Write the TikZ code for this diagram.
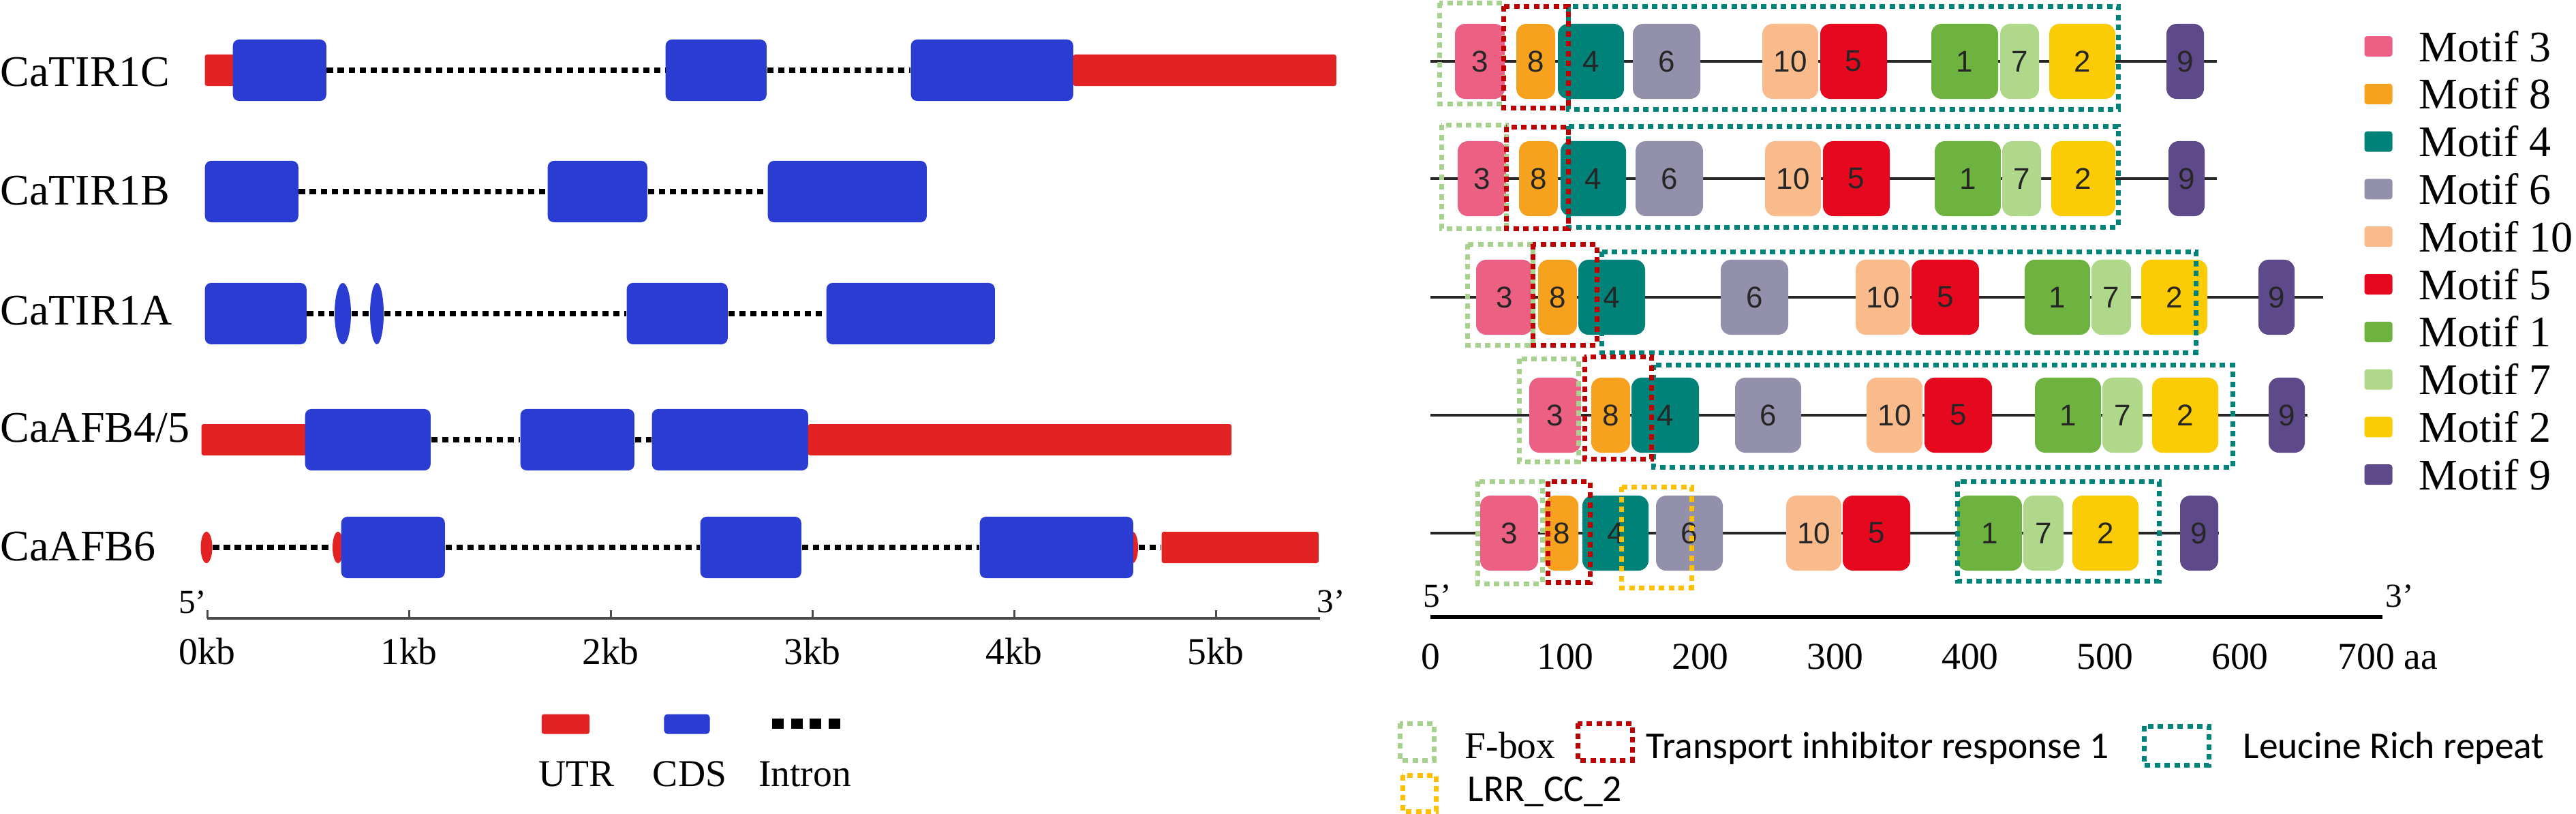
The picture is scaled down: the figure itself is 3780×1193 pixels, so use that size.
\documentclass[tikz,border=0pt]{standalone}
\usepackage{fontspec}
\setmainfont{Liberation Serif}
\setsansfont{Carlito}
\newfontfamily\boxfont{Liberation Sans}
\usetikzlibrary{shapes.geometric}

\definecolor{utrred}{RGB}{227,35,35}
\definecolor{cdsblue}{RGB}{42,60,210}
\definecolor{mot3}{RGB}{236,96,132}
\definecolor{mot8}{RGB}{246,162,30}
\definecolor{mot4}{RGB}{0,130,120}
\definecolor{mot6}{RGB}{146,144,170}
\definecolor{mot10}{RGB}{249,186,140}
\definecolor{mot5}{RGB}{230,8,30}
\definecolor{mot1}{RGB}{110,178,64}
\definecolor{mot7}{RGB}{176,216,138}
\definecolor{mot2}{RGB}{251,204,5}
\definecolor{mot9}{RGB}{94,74,138}
\definecolor{fboxgreen}{RGB}{168,208,142}
\definecolor{tirred}{RGB}{192,0,0}
\definecolor{lrrteal}{RGB}{0,132,122}
\definecolor{ccyellow}{RGB}{255,192,0}

\tikzset{
  utr/.style={rectangle, rounded corners=0.03cm, fill=utrred, minimum height=0.46cm, inner sep=0pt, anchor=west},
  cds/.style={rectangle, rounded corners=0.09cm, fill=cdsblue, minimum height=0.9cm, inner sep=0pt, anchor=west},
  cdsdot/.style={ellipse, fill=cdsblue, minimum height=0.9cm, inner sep=0pt},
  utrdot/.style={ellipse, fill=utrred, minimum height=0.46cm, inner sep=0pt},
  intron/.style={line width=0.075cm, dash pattern=on 0.095cm off 0.065cm},
  glabel/.style={font=\fontsize{18.2}{20}\selectfont, inner sep=0pt, anchor=base west},
  small label/.style={font=\fontsize{15.8}{18}\selectfont, inner sep=0pt, anchor=base},
  prime label/.style={font=\fontsize{14}{16}\selectfont, inner sep=0pt},
  sans label/.style={font=\sffamily\fontsize{15.8}{18}\selectfont, inner sep=0pt, anchor=base west},
  motif/.style={rectangle, rounded corners=0.15cm, minimum height=1.1cm, inner sep=0pt,
    text=black!85, font=\boxfont\fontsize{12.5}{14}\selectfont},
  backbone/.style={line width=0.035cm, black!85},
  frame/.style={line width=0.07cm, dash pattern=on 0.08cm off 0.065cm},
  fboxline/.style={frame, draw=fboxgreen},
  tirline/.style={frame, draw=tirred},
  lrrline/.style={frame, draw=lrrteal},
  ccline/.style={frame, draw=ccyellow},
  legsq/.style={rectangle, rounded corners=0.04cm, minimum width=0.41cm, minimum height=0.3cm, inner sep=0pt}
}

\begin{document}
\begin{tikzpicture}[x=0.01cm, y=-0.01cm]
  \useasboundingbox[fill=white] (0,0) rectangle (3780,1193);

  % gene structures
  \node[glabel] (gC) at (0,126) {CaTIR1C};
  \node[glabel] (gB) at (0,300) {CaTIR1B};
  \node[glabel] (gA) at (0,476) {CaTIR1A};
  \node[glabel] (g45) at (0,648) {CaAFB4/5};
  \node[glabel] (g6) at (0,822) {CaAFB6};

  \node[utr, minimum width=0.43cm] (u1a) at (300,103) {};
  \node[cds, minimum width=1.37cm] (c1a) at (341,103) {};
  \node[cds, minimum width=1.48cm] (c1b) at (976,103) {};
  \node[cds, minimum width=2.38cm] (c1c) at (1336,103) {};
  \node[utr, minimum width=3.86cm] (u1b) at (1574,103) {};
  \draw[intron] (c1a.east) -- (c1b.west);
  \draw[intron] (c1b.east) -- (c1c.west);

  \node[cds, minimum width=1.37cm] (c2a) at (300,281) {};
  \node[cds, minimum width=1.46cm] (c2b) at (803,281) {};
  \node[cds, minimum width=2.33cm] (c2c) at (1126,281) {};
  \draw[intron] (c2a.east) -- (c2b.west);
  \draw[intron] (c2b.east) -- (c2c.west);

  \node[cds, minimum width=1.49cm] (c3a) at (300,460) {};
  \node[cdsdot, minimum width=0.24cm] (e3a) at (503,460) {};
  \node[cdsdot, minimum width=0.2cm] (e3b) at (553,460) {};
  \node[cds, minimum width=1.48cm] (c3b) at (919,460) {};
  \node[cds, minimum width=2.47cm] (c3c) at (1212,460) {};
  \draw[intron] (c3a.east) -- (e3a.west);
  \draw[intron] (e3a.east) -- (e3b.west);
  \draw[intron] (e3b.east) -- (c3b.west);
  \draw[intron] (c3b.east) -- (c3c.west);

  \node[utr, minimum width=1.54cm] (u4a) at (295,645) {};
  \node[cds, minimum width=1.84cm] (c4a) at (447,645) {};
  \node[cds, minimum width=1.67cm] (c4b) at (763,645) {};
  \node[cds, minimum width=2.29cm] (c4c) at (956,645) {};
  \node[utr, minimum width=6.21cm] (u4b) at (1185,645) {};
  \draw[intron] (c4a.east) -- (c4b.west);
  \draw[intron] (c4b.east) -- (c4c.west);

  \node[utrdot, minimum width=0.17cm] (u5a) at (303,803) {};
  \node[utrdot, minimum width=0.16cm] (u5b) at (496,803) {};
  \node[cds, minimum width=1.52cm] (c5a) at (500,803) {};
  \node[cds, minimum width=1.48cm] (c5b) at (1027,803) {};
  \node[utrdot, minimum width=0.16cm] (u5c) at (1662,803) {};
  \node[cds, minimum width=2.25cm] (c5c) at (1437,803) {};
  \node[utr, minimum width=2.3cm] (u5d) at (1704,803) {};
  \draw[intron] (u5a.east) -- (u5b.west);
  \draw[intron] (c5a.east) -- (c5b.west);
  \draw[intron] (c5b.east) -- (c5c.west);
  \draw[intron] (u5c.east) -- (u5d.west);

  % kb scale
  \coordinate (kb0) at (304,907);
  \coordinate (kbend) at (1937,907);
  \draw[line width=0.04cm, black!70] (kb0) -- (kbend);
  \foreach \k in {0,...,5} {
    \draw[line width=0.03cm, black!70] ({304+296*\k},907) -- ++(0,-12);
    \node[small label] (kb\k) at ({304+296*\k},974) {\k kb};
  }
  \node[prime label, anchor=base east] (five1) at (304,899) {5'};
  \node[prime label, anchor=base west] (three1) at (1932,898) {3'};

  % gene legend
  \node[utr, anchor=center, minimum width=0.7cm, minimum height=0.29cm] (legutr) at (830,1062) {};
  \node[cds, anchor=center, minimum width=0.67cm, minimum height=0.29cm, rounded corners=0.05cm] (legcds) at (1008,1062) {};
  \coordinate (legin0) at (1133,1061);
  \coordinate (legin1) at (1233,1061);
  \draw[line width=0.15cm, dash pattern=on 0.17cm off 0.107cm] (legin0) -- (legin1);
  \node[small label] (tutr) at (846,1153) {UTR};
  \node[small label] (tcds) at (1012,1153) {CDS};
  \node[small label] (tint) at (1181,1153) {Intron};

  % protein motifs
  \coordinate (ra0) at (2099,90);   \coordinate (ra1) at (3253,90);
  \coordinate (rb0) at (2099,262);  \coordinate (rb1) at (3253,262);
  \coordinate (rc0) at (2099,436);  \coordinate (rc1) at (3409,436);
  \coordinate (rd0) at (2099,609);  \coordinate (rd1) at (3386,609);
  \coordinate (re0) at (2099,782);  \coordinate (re1) at (3256,782);
  \draw[backbone] (ra0) -- (ra1);
  \draw[backbone] (rb0) -- (rb1);
  \draw[backbone] (rc0) -- (rc1);
  \draw[backbone] (rd0) -- (rd1);
  \draw[backbone] (re0) -- (re1);

  \foreach \m/\a/\b in {3/2135/2208, 8/2225/2282, 4/2286/2383, 6/2396/2495, 10/2586/2668,
                        5/2671/2769, 1/2834/2932, 7/2935/2992, 2/3007/3104, 9/3179/3234}
    \node[motif, fill=mot\m, minimum width={(\b-\a)*0.01cm}] (ra\m) at ({(\a+\b)/2},90) {\m};
  \foreach \m/\a/\b in {3/2139/2210, 8/2229/2286, 4/2290/2386, 6/2400/2499, 10/2590/2672,
                        5/2675/2773, 1/2839/2936, 7/2938/2995, 2/3010/3104, 9/3182/3235}
    \node[motif, fill=mot\m, minimum width={(\b-\a)*0.01cm}] (rb\m) at ({(\a+\b)/2},262) {\m};
  \foreach \m/\a/\b in {3/2166/2249, 8/2257/2314, 4/2316/2414, 6/2525/2624, 10/2723/2803,
                        5/2805/2904, 1/2971/3067, 7/3069/3127, 2/3142/3239, 9/3314/3367}
    \node[motif, fill=mot\m, minimum width={(\b-\a)*0.01cm}] (rc\m) at ({(\a+\b)/2},436) {\m};
  \foreach \m/\a/\b in {3/2244/2320, 8/2335/2392, 4/2394/2493, 6/2546/2643, 10/2739/2821,
                        5/2824/2923, 1/2986/3083, 7/3085/3144, 2/3158/3255, 9/3329/3382}
    \node[motif, fill=mot\m, minimum width={(\b-\a)*0.01cm}] (rd\m) at ({(\a+\b)/2},609) {\m};
  \foreach \m/\a/\b in {3/2172/2257, 8/2267/2316, 4/2322/2419, 6/2430/2528, 10/2621/2702,
                        5/2704/2803, 1/2872/2967, 7/2969/3028, 2/3041/3138, 9/3199/3255}
    \node[motif, fill=mot\m, minimum width={(\b-\a)*0.01cm}] (re\m) at ({(\a+\b)/2},782) {\m};

  % domain frames
  \draw[fboxline] (2112,4) rectangle (2206,152);
  \draw[lrrline] (2301,9) rectangle (3108,160);
  \draw[tirline] (2206,9) rectangle (2301,158);
  \draw[fboxline] (2115,183) rectangle (2210,335);
  \draw[lrrline] (2301,185) rectangle (3108,333);
  \draw[tirline] (2210,186) rectangle (2301,335);
  \draw[fboxline] (2153,358) rectangle (2249,506);
  \draw[lrrline] (2350,369) rectangle (3222,517);
  \draw[tirline] (2249,358) rectangle (2343,506);
  \draw[fboxline] (2229,526) rectangle (2316,677);
  \draw[lrrline] (2426,535) rectangle (3276,685);
  \draw[tirline] (2325,523) rectangle (2423,673);
  \draw[fboxline] (2168,706) rectangle (2263,856);
  \draw[tirline] (2271,706) rectangle (2333,854);
  \draw[ccline] (2379,714) rectangle (2482,862);
  \draw[lrrline] (2872,706) rectangle (3168,852);

  % aa scale
  \coordinate (aa0) at (2099,905);
  \coordinate (aaend) at (3496,905);
  \draw[line width=0.06cm] (aa0) -- (aaend);
  \node[small label] (aat0) at (2099,981) {0};
  \foreach \k in {1,...,6}
    \node[small label] (aat\k) at ({2099+198*\k},981) {\k00};
  \node[small label, anchor=base west] (aat7) at (3430,981) {700 aa};
  \node[prime label, anchor=base west] (five2) at (2088,890) {5'};
  \node[prime label, anchor=base west] (three2) at (3500,890) {3'};

  % motif legend
  \foreach \m [count=\i from 0] in {3,8,4,6,10,5,1,7,2,9} {
    \node[legsq, fill=mot\m] (sq\m) at (3490,{68+69.8*\i}) {};
    \node[glabel] (mt\m) at (3549,{90+69.8*\i}) {Motif \m};
  }

  % domain legend
  \draw[fboxline] (2054,1061) rectangle (2104,1115);
  \node[glabel, font=\fontsize{15.8}{18}\selectfont] (tfbox) at (2149,1112) {F-box};
  \draw[tirline] (2315,1061) rectangle (2395,1115);
  \node[sans label] (ttir) at (2415,1112) {Transport inhibitor response 1};
  \draw[lrrline] (3146,1065) rectangle (3241,1122);
  \node[sans label] (tlrr) at (3291,1112) {Leucine Rich repeat};
  \draw[ccline] (2058,1137) rectangle (2107,1190);
  \node[sans label] (tcc) at (2153,1175) {LRR\_CC\_2};
\end{tikzpicture}
\end{document}
